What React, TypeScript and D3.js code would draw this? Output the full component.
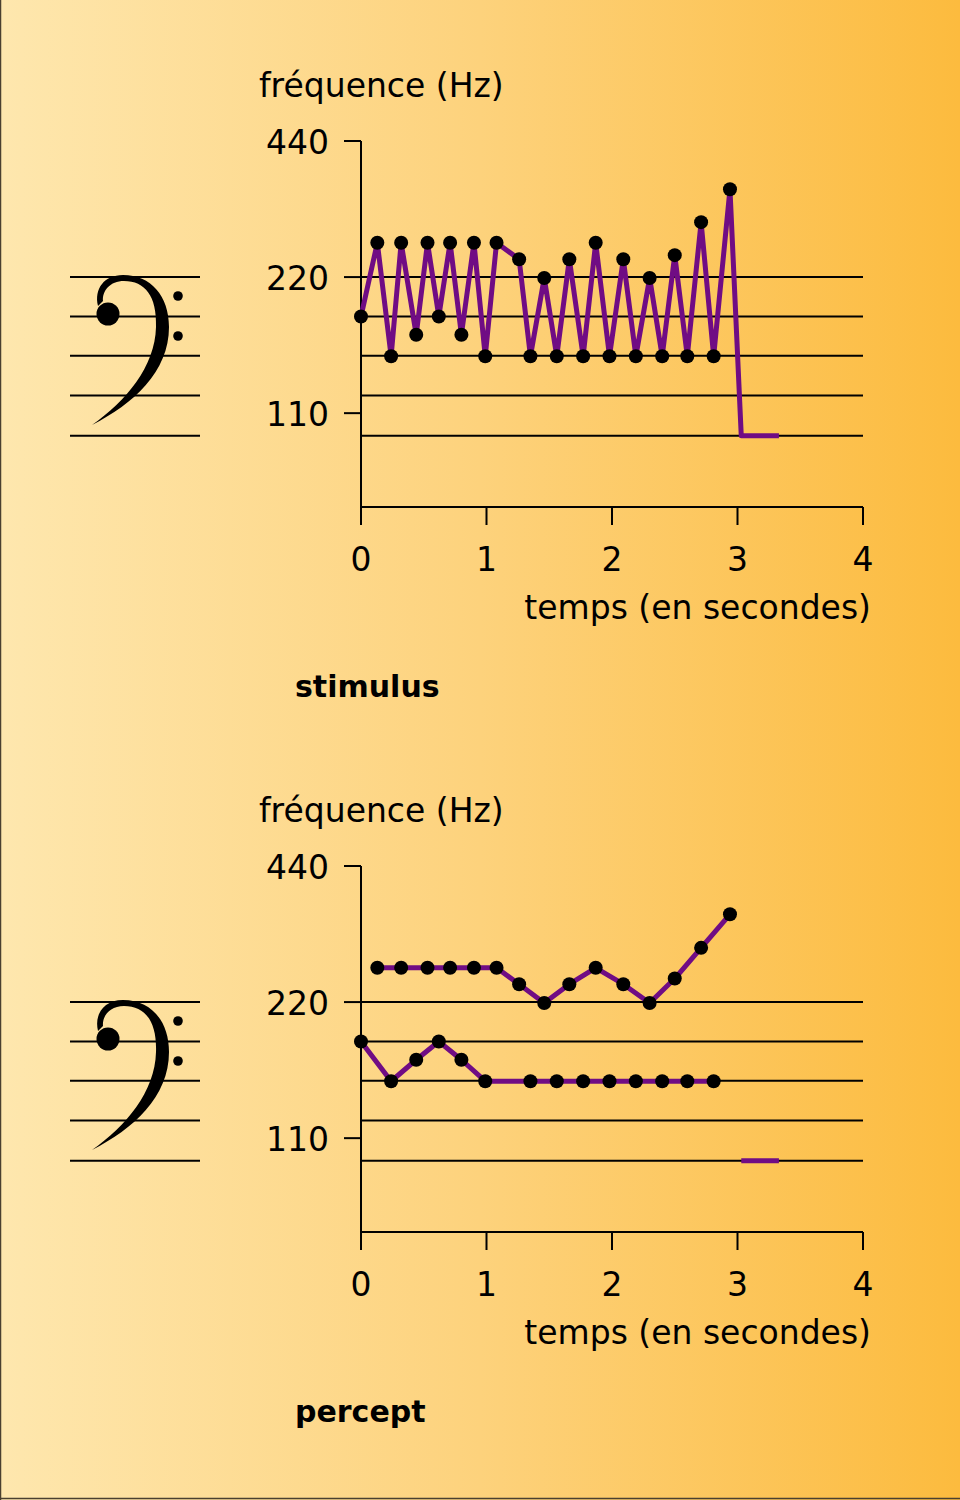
import React from "react";
import * as d3 from "d3";

// ---- data ----
const xTicks = [0, 1, 2, 3, 4];
const yTicks = [440, 220, 110];
const staffFreqs = [220, 180, 147.3, 120.3, 98];

// stimulus: alternating tones (time in s, frequency in Hz)
const stimulusTimes = [0, 0.13, 0.24, 0.32, 0.44, 0.53, 0.62, 0.71, 0.8, 0.9, 0.99, 1.08, 1.26, 1.35, 1.46, 1.56, 1.66, 1.77, 1.87, 1.98, 2.09, 2.19, 2.3, 2.4, 2.5, 2.6, 2.71, 2.81, 2.94];
const stimulusFreqs = [180, 262, 147, 262, 164, 262, 180, 262, 164, 262, 147, 262, 241, 147, 219, 147, 241, 147, 262, 147, 241, 147, 219, 147, 246, 147, 291, 147, 344];
const stimulusTailTimes = [2.94, 3.03, 3.33];
const stimulusTailFreqs = [344, 98, 98];

// percept: two streams
const upperTimes = [0.13, 0.32, 0.53, 0.71, 0.9, 1.08, 1.26, 1.46, 1.66, 1.87, 2.09, 2.3, 2.5, 2.71, 2.94];
const upperFreqs = [262, 262, 262, 262, 262, 262, 241, 219, 241, 262, 241, 219, 248, 290, 344];
const lowerTimes = [0, 0.24, 0.44, 0.62, 0.8, 0.99, 1.35, 1.56, 1.77, 1.98, 2.19, 2.4, 2.6, 2.81];
const lowerFreqs = [180, 147, 164, 180, 164, 147, 147, 147, 147, 147, 147, 147, 147, 147];
const perceptTailTimes = [3.03, 3.33];
const perceptTailFreqs = [98, 98];

const FONT = "DejaVu Sans, Verdana, sans-serif";
const PURPLE = "#700c84";

type Series = { t: number[]; f: number[]; dots: boolean; width: number };

function BassClef({ y0 }: { y0: number }) {
  return (
    <g transform={`translate(0, ${y0})`}>
      <path
        d="M98,306 C94,289 104,275 123,275 C151,275 169,296 169,327 C169,372 133,404 92,425 C126,401 155,367 156,327 C157,296 145,281 124,281 C110,281 102,291 103,301 Z"
        fill="#000"
      />
      <circle cx={108} cy={314} r={11.5} fill="#000" />
      <circle cx={178} cy={296} r={4.8} fill="#000" />
      <circle cx={178} cy={336} r={4.8} fill="#000" />
    </g>
  );
}

function Panel({ y0, label, series }: { y0: number; label: string; series: Series[] }) {
  const x = d3.scaleLinear().domain([0, 4]).range([361, 863]);
  const y = d3.scaleLog().domain([68.2, 440]).range([507, 141]);
  const line = d3
    .line<[number, number]>()
    .x((d) => x(d[0]))
    .y((d) => y(d[1]));
  const [yBottom, yTop] = y.range();
  return (
    <g transform={`translate(0, ${y0})`}>
      <BassClef y0={0} />
      {staffFreqs.map((f, i) => (
        <line key={"ls" + i} x1={70} x2={200} y1={y(f)} y2={y(f)} stroke="#000" strokeWidth={2} />
      ))}
      {staffFreqs.map((f, i) => (
        <line key={"cs" + i} x1={361} x2={863} y1={y(f)} y2={y(f)} stroke="#000" strokeWidth={2} />
      ))}
      <line x1={361} x2={361} y1={yTop} y2={yBottom} stroke="#000" strokeWidth={2} />
      {yTicks.map((v) => (
        <g key={"yt" + v}>
          <line x1={344} x2={361} y1={y(v)} y2={y(v)} stroke="#000" strokeWidth={2} />
          <text x={329} y={y(v) + 13} textAnchor="end" fontFamily={FONT} fontSize={33} fill="#000">
            {v}
          </text>
        </g>
      ))}
      <text x={259} y={97} fontFamily={FONT} fontSize={33} fill="#000">
        fréquence (Hz)
      </text>
      <line x1={x(0)} x2={x(4)} y1={yBottom} y2={yBottom} stroke="#000" strokeWidth={2} />
      {xTicks.map((v) => (
        <g key={"xt" + v}>
          <line x1={x(v)} x2={x(v)} y1={yBottom} y2={yBottom + 18} stroke="#000" strokeWidth={2} />
          <text x={x(v)} y={571} textAnchor="middle" fontFamily={FONT} fontSize={33} fill="#000">
            {v}
          </text>
        </g>
      ))}
      <text x={871} y={619} textAnchor="end" fontFamily={FONT} fontSize={33} fill="#000">
        temps (en secondes)
      </text>
      {series.map((s, i) => {
        const pts: [number, number][] = s.t.map((t, j) => [t, s.f[j]]);
        return (
          <path key={"l" + i} d={line(pts) || ""} fill="none" stroke={PURPLE} strokeWidth={s.width} strokeLinejoin="round" />
        );
      })}
      {series.map((s, i) =>
        s.dots
          ? s.t.map((t, j) => <circle key={"d" + i + "-" + j} cx={x(t)} cy={y(s.f[j])} r={7} fill="#000" />)
          : null
      )}
      <text x={295} y={697} fontFamily={FONT} fontSize={30} fontWeight="bold" fill="#000">
        {label}
      </text>
    </g>
  );
}

export default function App() {
  return (
    <svg width={960} height={1500} style={{ position: "absolute", left: 0, top: 0 }} xmlns="http://www.w3.org/2000/svg">
      <defs>
        <linearGradient id="bg" x1="0" x2="1" y1="0" y2="0">
          <stop offset="0" stopColor="#fee7ae" />
          <stop offset="0.5" stopColor="#fdd27c" />
          <stop offset="1" stopColor="#fcbb3e" />
        </linearGradient>
      </defs>
      <rect x={0} y={0} width={960} height={1500} fill="url(#bg)" />
      <line x1={0.5} x2={0.5} y1={0} y2={1500} stroke="#4a4030" strokeWidth={1.5} />
      <line x1={0} x2={960} y1={1498.5} y2={1498.5} stroke="#4a4030" strokeWidth={1.5} />
      <Panel
        y0={0}
        label="stimulus"
        series={[
          { t: stimulusTimes, f: stimulusFreqs, dots: true, width: 5 },
          { t: stimulusTailTimes, f: stimulusTailFreqs, dots: false, width: 5 },
        ]}
      />
      <Panel
        y0={725}
        label="percept"
        series={[
          { t: upperTimes, f: upperFreqs, dots: true, width: 5 },
          { t: lowerTimes, f: lowerFreqs, dots: true, width: 5 },
          { t: perceptTailTimes, f: perceptTailFreqs, dots: false, width: 5 },
        ]}
      />
    </svg>
  );
}
